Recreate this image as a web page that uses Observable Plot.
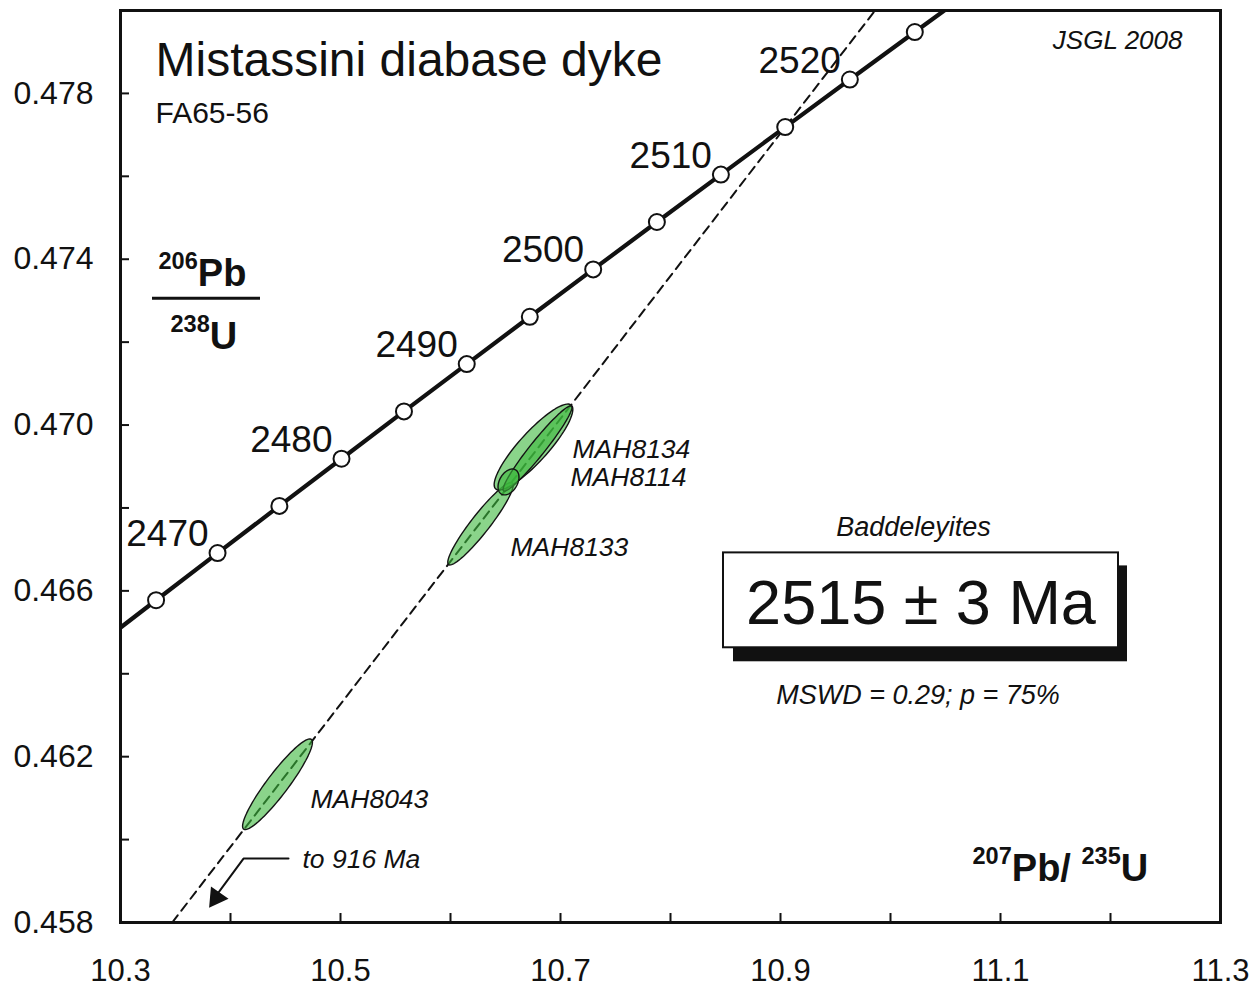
<!DOCTYPE html>
<html>
<head>
<meta charset="utf-8">
<script src="https://cdn.jsdelivr.net/npm/d3@7"></script>
<script src="https://cdn.jsdelivr.net/npm/@observablehq/plot@0.6"></script>
<style>
  html, body { margin: 0; padding: 0; background: #ffffff; }
  svg text { white-space: pre; }
</style>
</head>
<body>
<div id="chart"></div>
<script>
// ---------------- DATA ----------------
// Concordia curve nodes (age in Ma, 207Pb/235U, 206Pb/238U)
const concordiaAge = [2460, 2465, 2470, 2475, 2480, 2485, 2490, 2495, 2500, 2505, 2510, 2515, 2520, 2525, 2530];
const concordiaX = [10.27674, 10.33234, 10.38823, 10.44444, 10.50093, 10.55770, 10.61477, 10.67210, 10.72972, 10.78762, 10.84581, 10.90429, 10.96305, 11.02210, 11.08147];
const concordiaY = [0.464638, 0.465774, 0.466912, 0.468049, 0.469188, 0.470329, 0.471470, 0.472612, 0.473754, 0.474898, 0.476042, 0.477188, 0.478334, 0.479481, 0.480628];
const labelledAges = [2470, 2480, 2490, 2500, 2510, 2520];

// Discordia (dashed) as read at the plot edges
const discordiaX = [10.347, 10.986];
const discordiaY = [0.458, 0.480];

// Baddeleyite error ellipses: centre, half-extents, correlation
const spotName = ["MAH8043", "MAH8133", "MAH8134", "MAH8114", "MAH8114b"];
const spotX    = [10.44273, 10.62727, 10.67545, 10.67909, 10.65273];
const spotSX   = [0.03175, 0.02974, 0.03576, 0.03130, 0.00953];
const spotY    = [0.461335, 0.467620, 0.469470, 0.469434, 0.468627];
const spotSY   = [0.001093, 0.000995, 0.001037, 0.001029, 0.000312];
const spotRho  = [0.925, 0.935, 0.875, 0.962, 0.37];

// Axis ticks
const xTickValues = [10.3, 10.4, 10.5, 10.6, 10.7, 10.8, 10.9, 11.0, 11.1, 11.2, 11.3];
const xLabelValues = [10.3, 10.5, 10.7, 10.9, 11.1, 11.3];
const xTickLabels = ["10.3", "10.5", "10.7", "10.9", "11.1", "11.3"];
const yTickValues = [0.458, 0.460, 0.462, 0.464, 0.466, 0.468, 0.470, 0.472, 0.474, 0.476, 0.478];
const yLabelValues = [0.458, 0.462, 0.466, 0.470, 0.474, 0.478];
const yTickLabels = ["0.458", "0.462", "0.466", "0.470", "0.474", "0.478"];

// ---------------- BUILD ----------------
const concordia = concordiaAge.map((a, i) => ({age: a, x: concordiaX[i], y: concordiaY[i]}));
const concordiaDots = concordia.filter(d => d.x >= 10.3 && d.y <= 0.480);
const ageLabels = concordia.filter(d => labelledAges.includes(d.age));
const discordia = discordiaX.map((x, i) => ({x, y: discordiaY[i]}));

const ellipsePts = [];
spotName.forEach((name, i) => {
  const r = spotRho[i], q = Math.sqrt(1 - r * r);
  for (let k = 0; k < 90; k++) {
    const t = 2 * Math.PI * k / 90;
    ellipsePts.push({
      name,
      x: spotX[i] + spotSX[i] * Math.cos(t),
      y: spotY[i] + spotSY[i] * (r * Math.cos(t) + q * Math.sin(t))
    });
  }
});

const FONT = "'Liberation Sans', Arial, Helvetica, sans-serif";

function note(text, x, y, opts = {}) {
  return Plot.text([text], {x: () => x, y: () => y, text: d => d, lineAnchor: "bottom", fontFamily: FONT, fill: "#111", ...opts});
}

const chart = Plot.plot({
  width: 1260,
  height: 987,
  marginLeft: 120,
  marginRight: 40,
  marginTop: 10,
  marginBottom: 65,
  x: {domain: [10.3, 11.3], label: null},
  y: {domain: [0.458, 0.480], label: null},
  style: {fontFamily: FONT, fontSize: "31px", background: "#ffffff", color: "#111"},
  marks: [
    // discordia
    Plot.line(discordia, {x: "x", y: "y", stroke: "#111", strokeWidth: 2, strokeDasharray: "9,6", clip: true}),
    // ellipses
    Plot.line(ellipsePts, {x: "x", y: "y", z: "name", curve: "linear-closed", fill: "#3cb83c", fillOpacity: 0.6, stroke: "#141414", strokeWidth: 1.4}),
    // concordia
    Plot.line(concordia, {x: "x", y: "y", stroke: "#111", strokeWidth: 4.2, clip: true}),
    Plot.dot(concordiaDots, {x: "x", y: "y", r: 8, fill: "white", stroke: "#111", strokeWidth: 2}),
    Plot.text(ageLabels, {x: "x", y: "y", text: d => String(d.age), textAnchor: "end", lineAnchor: "bottom", dx: -9, dy: -7, fontSize: 37, fill: "#111"}),

    // result box with shadow
    Plot.rect([0], {x1: () => 10.85727, x2: () => 11.21545, y1: () => 0.464289, y2: () => 0.466602, fill: "#111"}),
    Plot.rect([0], {x1: () => 10.84818, x2: () => 11.20727, y1: () => 0.464627, y2: () => 0.466916, fill: "white", stroke: "#111", strokeWidth: 2}),
    note("2515 ± 3 Ma", 11.02773, 0.465205, {fontSize: 63, textAnchor: "middle"}),
    note("Baddeleyites", 11.02091, 0.467325, {fontSize: 27, fontStyle: "italic", textAnchor: "middle"}),
    note("MSWD = 0.29; p = 75%", 11.0250, 0.463277, {fontSize: 27, fontStyle: "italic", textAnchor: "middle"}),

    // titles
    note("Mistassini diabase dyke", 10.33182, 0.478410, {fontSize: 48, textAnchor: "start"}),
    note("FA65-56", 10.33182, 0.477277, {fontSize: 30, textAnchor: "start"}),
    note("JSGL 2008", 11.26545, 0.479060, {fontSize: 26, fontStyle: "italic", textAnchor: "end"}),

    // sample labels
    note("MAH8134", 10.71091, 0.469205, {fontSize: 26.5, fontStyle: "italic", textAnchor: "start"}),
    note("MAH8114", 10.70909, 0.468530, {fontSize: 26.5, fontStyle: "italic", textAnchor: "start"}),
    note("MAH8133", 10.65455, 0.466843, {fontSize: 26.5, fontStyle: "italic", textAnchor: "start"}),
    note("MAH8043", 10.47273, 0.460771, {fontSize: 26.5, fontStyle: "italic", textAnchor: "start"}),
    note("to 916 Ma", 10.46545, 0.459325, {fontSize: 26.5, fontStyle: "italic", textAnchor: "start"}),

    // arrow toward lower intercept
    Plot.line([[10.45273, 0.459542], [10.41182, 0.459542], [10.38900, 0.458720]], {x: d => d[0], y: d => d[1], stroke: "#111", strokeWidth: 2}),
    Plot.dot([[10.38700, 0.458600]], {x: d => d[0], y: d => d[1], symbol: "triangle", r: 7, rotate: 215, fill: "#111", stroke: "#111"}),

    // axis titles (ratio labels)
    note("^206^Pb", 10.33455, 0.473349, {fontSize: 38, fontWeight: "bold", textAnchor: "start"}),
    Plot.ruleY([0], {y: () => 0.473060, x1: () => 10.32909, x2: () => 10.42727, stroke: "#111", strokeWidth: 3}),
    note("^238^U", 10.34545, 0.471831, {fontSize: 38, fontWeight: "bold", textAnchor: "start"}),
    note("^207^Pb/ ^235^U", 11.07455, 0.459012, {fontSize: 38, fontWeight: "bold", textAnchor: "start"}),

    // axes (inward ticks)
    Plot.axisX({ticks: xTickValues, tickSize: -9, tickFormat: () => "", strokeWidth: 2}),
    Plot.axisX({ticks: xLabelValues, tickSize: 0, tickPadding: 36, tickFormat: d => xTickLabels[xLabelValues.indexOf(d)], fontSize: 31}),
    Plot.axisY({ticks: yTickValues, tickSize: -9, tickFormat: () => "", strokeWidth: 2}),
    Plot.axisY({ticks: yLabelValues, tickSize: 0, tickPadding: 27, tickFormat: d => yTickLabels[yLabelValues.indexOf(d)], fontSize: 32}),
    Plot.frame({stroke: "#111", strokeWidth: 3})
  ]
});

// turn ^...^ segments into superscripts
chart.querySelectorAll("text").forEach(t => {
  const s = t.textContent;
  if (!s.includes("^")) return;
  const parts = s.split("^");
  t.textContent = "";
  parts.forEach((p, i) => {
    if (p === "") return;
    const ts = document.createElementNS("http://www.w3.org/2000/svg", "tspan");
    ts.textContent = p;
    if (i % 2 === 1) {
      ts.setAttribute("font-size", "0.62em");
      ts.setAttribute("dy", "-0.72em");
    } else if (i > 0) {
      ts.setAttribute("dy", "0.446em");
    }
    t.appendChild(ts);
  });
});

document.getElementById("chart").appendChild(chart);
</script>
</body>
</html>
